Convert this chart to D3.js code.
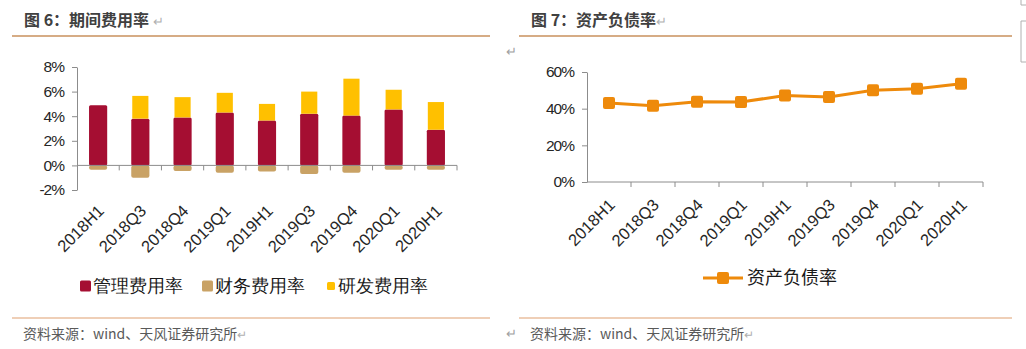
<!DOCTYPE html>
<html>
<head>
<meta charset="utf-8">
<script src="https://cdn.jsdelivr.net/npm/d3@7"></script>
<style>
  body { margin: 0; background: #fff; }
  text { font-family: "Liberation Sans", Arial, sans-serif; }
  .cn { font-family: "Noto Sans CJK SC", sans-serif; }
</style>
</head>
<body>
<script>
// chart data
var periods = ["2018H1", "2018Q3", "2018Q4", "2019Q1", "2019H1", "2019Q3", "2019Q4", "2020Q1", "2020H1"];
var mgmtRate = [4.9, 3.8, 3.9, 4.3, 3.65, 4.2, 4.05, 4.55, 2.9];
var finRate = [-0.35, -1.0, -0.45, -0.6, -0.5, -0.7, -0.6, -0.35, -0.35];
var rdRate = [0, 1.85, 1.65, 1.6, 1.35, 1.8, 3.0, 1.6, 2.25];
var debtRatio = [43.1, 41.6, 43.8, 43.6, 47.2, 46.4, 50.0, 50.9, 53.6];
var leftTicks = [-2, 0, 2, 4, 6, 8];
var rightTicks = [0, 20, 40, 60];

var svgWidth = 1026;
var svgHeight = 349;

var colors = {
  mgmt: "#A50E32",
  fin: "#C9A265",
  rd: "#FFC000",
  debt: "#EE8A0B",
  axis: "#8C8C8C",
  rule: "#C8915C"
};

var svg = d3.select("body")
  .append("svg")
  .attr("width", svgWidth)
  .attr("height", svgHeight);

// ---------- page furniture (titles, rules, sources) ----------
function header(x, lineX1, lineX2, label) {
  var t = svg.append("text")
    .attr("class", "cn")
    .attr("x", x)
    .attr("y", 26)
    .attr("font-size", 16)
    .attr("font-weight", "bold")
    .attr("fill", "#404040")
    .text(label);
  t.append("tspan")
    .attr("font-weight", "normal")
    .attr("fill", "#b0b0b0")
    .attr("font-size", 13)
    .text("↵");

  svg.append("line")
    .attr("x1", lineX1).attr("x2", lineX2)
    .attr("y1", 36).attr("y2", 36)
    .attr("stroke", colors.rule)
    .attr("stroke-width", 1.3);

  svg.append("line")
    .attr("x1", lineX1).attr("x2", lineX2)
    .attr("y1", 318).attr("y2", 318)
    .attr("stroke", "#E0A070")
    .attr("stroke-width", 1.2);

  svg.append("text")
    .attr("class", "cn")
    .attr("x", x - 1)
    .attr("y", 339)
    .attr("font-size", 14)
    .attr("fill", "#595959")
    .text("资料来源：wind、天风证券研究所")
    .append("tspan")
    .attr("fill", "#b0b0b0")
    .attr("font-size", 12)
    .text("↵");
}

header(24, 12, 490, "图 6：期间费用率 ");
header(531, 519, 1012, "图 7：资产负债率");

// stray paragraph marks
[[506, 56], [506, 338]].forEach(function(p) {
  svg.append("text")
    .attr("x", p[0]).attr("y", p[1])
    .attr("font-size", 13)
    .attr("fill", "#a0a0a0")
    .text("↵");
});

// little frame marks at the right edge
svg.append("path")
  .attr("d", "M1021,0 V5 H1026 M1026,21 H1021 V62 H1026")
  .attr("fill", "none")
  .attr("stroke", "#b0b0b0");

// ---------- left chart: stacked expense rates ----------
var xL = d3.scaleBand()
  .domain(periods)
  .range([77, 457])
  .paddingInner(0.57)
  .paddingOuter(0.285);

var yL = d3.scaleLinear()
  .domain([-2, 8])
  .range([190, 67]);

var leftAxis = d3.axisLeft(yL)
  .tickValues(leftTicks)
  .tickFormat(function(d) { return d + "%"; })
  .tickSize(5)
  .tickSizeOuter(0)
  .tickPadding(8);

var yAxisL = svg.append("g")
  .attr("transform", "translate(77,0)")
  .call(leftAxis);

styleAxis(yAxisL);

var barData = periods.map(function(p, i) {
  return { period: p, mgmt: mgmtRate[i], fin: finRate[i], rd: rdRate[i] };
});

var bars = svg.append("g");

// finance (negative)
bars.selectAll(".fin")
  .data(barData)
  .enter()
  .append("rect")
  .attr("x", d => xL(d.period))
  .attr("width", xL.bandwidth())
  .attr("y", yL(0))
  .attr("height", d => yL(d.fin) - yL(0))
  .attr("rx", 2)
  .attr("fill", colors.fin);

// management
bars.selectAll(".mgmt")
  .data(barData)
  .enter()
  .append("rect")
  .attr("x", d => xL(d.period))
  .attr("width", xL.bandwidth())
  .attr("y", d => yL(d.mgmt))
  .attr("height", d => yL(0) - yL(d.mgmt))
  .attr("rx", 1.5)
  .attr("fill", colors.mgmt);

// R&D on top
bars.selectAll(".rd")
  .data(barData.filter(d => d.rd > 0))
  .enter()
  .append("rect")
  .attr("x", d => xL(d.period) + 1)
  .attr("width", xL.bandwidth() - 2)
  .attr("y", d => yL(d.mgmt + d.rd))
  .attr("height", d => yL(d.mgmt) - yL(d.mgmt + d.rd))
  .attr("fill", colors.rd);

// category axis drawn at 0 with ticks on band boundaries
drawCategoryAxis(xL, yL(0));

// rotated category labels
rotatedLabels(xL, 212);

// legend
var legL = svg.append("g").attr("class", "cn");
var legItems = [
  { name: "管理费用率", color: colors.mgmt, x: 80, size: 11 },
  { name: "财务费用率", color: colors.fin, x: 202, size: 11 },
  { name: "研发费用率", color: colors.rd, x: 327, size: 8 }
];
legItems.forEach(function(it) {
  legL.append("rect")
    .attr("x", it.x)
    .attr("y", 286 - it.size / 2)
    .attr("width", it.size)
    .attr("height", it.size)
    .attr("rx", 1.5)
    .attr("fill", it.color);
  legL.append("text")
    .attr("x", it.x + (it.size === 11 ? 13 : 11))
    .attr("y", 292)
    .attr("font-size", 18)
    .attr("fill", "#1a1a1a")
    .text(it.name);
});

// ---------- right chart: debt ratio line ----------
var xR = d3.scaleBand()
  .domain(periods)
  .range([587, 983]);

var yR = d3.scaleLinear()
  .domain([0, 60])
  .range([182, 72]);

var yAxisR = svg.append("g")
  .attr("transform", "translate(587,0)")
  .call(d3.axisLeft(yR)
    .tickValues(rightTicks)
    .tickFormat(function(d) { return d + "%"; })
    .tickSize(5)
    .tickSizeOuter(0)
    .tickPadding(8));

styleAxis(yAxisR);
drawCategoryAxis(xR, yR(0));
rotatedLabels(xR, 206);

var line = d3.line()
  .x(function(d, i) { return xR(periods[i]) + xR.bandwidth() / 2; })
  .y(function(d) { return yR(d); });

svg.append("path")
  .datum(debtRatio)
  .attr("d", line)
  .attr("fill", "none")
  .attr("stroke", colors.debt)
  .attr("stroke-width", 3);

svg.selectAll(".marker")
  .data(debtRatio)
  .enter()
  .append("rect")
  .attr("class", "marker")
  .attr("x", (d, i) => xR(periods[i]) + xR.bandwidth() / 2 - 6)
  .attr("y", d => yR(d) - 6)
  .attr("width", 12)
  .attr("height", 12)
  .attr("rx", 2)
  .attr("fill", colors.debt);

// legend for the line
var legR = svg.append("g");
legR.append("line")
  .attr("x1", 703).attr("x2", 743)
  .attr("y1", 278).attr("y2", 278)
  .attr("stroke", colors.debt)
  .attr("stroke-width", 3);
legR.append("rect")
  .attr("x", 717).attr("y", 272)
  .attr("width", 12).attr("height", 12)
  .attr("rx", 2)
  .attr("fill", colors.debt);
legR.append("text")
  .attr("class", "cn")
  .attr("x", 747)
  .attr("y", 284)
  .attr("font-size", 18)
  .attr("fill", "#1a1a1a")
  .text("资产负债率");

// ---------- helpers ----------
function styleAxis(g) {
  g.select(".domain").attr("stroke", colors.axis);
  g.selectAll(".tick line").attr("stroke", colors.axis);
  g.selectAll(".tick text")
    .attr("font-size", 15.5)
    .attr("letter-spacing", "-1px")
    .attr("fill", "#262626");
}

function drawCategoryAxis(x, y0) {
  var g = svg.append("g");
  var r = x.range();
  g.append("line")
    .attr("x1", r[0]).attr("x2", r[1])
    .attr("y1", y0).attr("y2", y0)
    .attr("stroke", colors.axis);
  var edges = x.domain().map(function(d) {
    return x(d) - (x.step() - x.bandwidth()) / 2;
  });
  edges.push(r[1]);
  g.selectAll("line.tk")
    .data(edges.slice(1))
    .enter()
    .append("line")
    .attr("class", "tk")
    .attr("x1", d => d).attr("x2", d => d)
    .attr("y1", y0).attr("y2", y0 + 5)
    .attr("stroke", colors.axis);
}

function rotatedLabels(x, y) {
  svg.append("g")
    .selectAll("text")
    .data(x.domain())
    .enter()
    .append("text")
    .attr("transform", d => "translate(" + (x(d) + x.bandwidth() / 2 + 7) + "," + y + ") rotate(-45)")
    .attr("text-anchor", "end")
    .attr("font-size", 16.5)
    .attr("fill", "#262626")
    .text(d => d);
}
</script>
</body>
</html>
